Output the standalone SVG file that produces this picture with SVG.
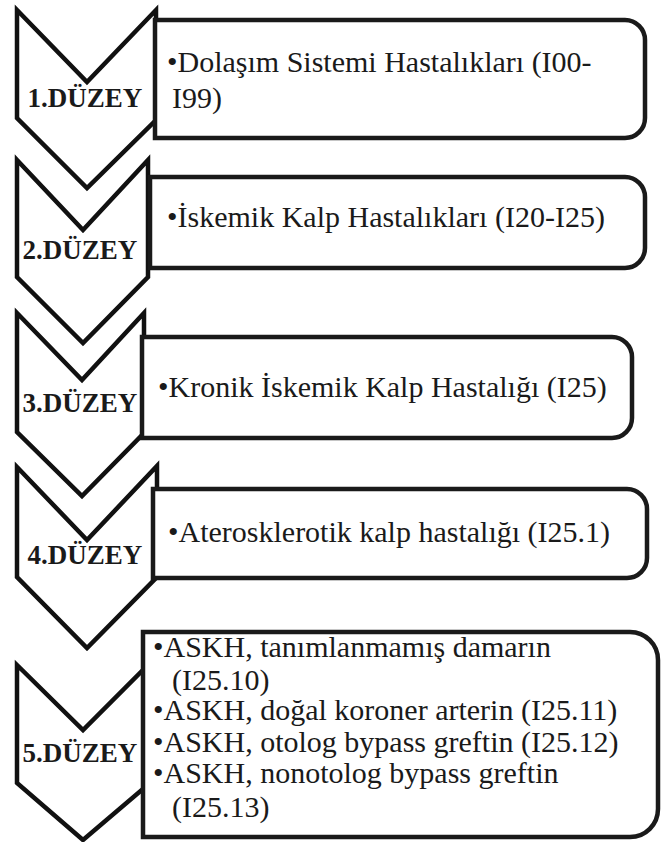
<svg xmlns="http://www.w3.org/2000/svg" width="662" height="842" viewBox="0 0 662 842">
<style>
.chev{fill:#fff;stroke:#111;stroke-width:4.5;stroke-linejoin:miter}
.box{fill:#fff;stroke:#1a1a1a;stroke-width:4.5}
.lbl{font-family:"Liberation Serif","Times New Roman",serif;font-weight:bold;font-size:27px;fill:#1a1a1a;text-anchor:middle}
.txt{font-family:"Liberation Serif","Times New Roman",serif;font-size:30px;fill:#1a1a1a}
</style>
<rect width="662" height="842" fill="#fff"/>
<g id="connectors"></g>
<g id="level1">
<path class="chev" d="M17,10 L87,82 L156,10 L156,120 L87,188 L17,118 Z"/>
<path class="box" d="M155,20 H625 A20,20 0 0 1 645,40 V118 A20,20 0 0 1 625,138 H155 Z"/>
<text class="lbl" x="85" y="107">1.DÜZEY</text>
<text class="txt" x="167" y="72">•Dolaşım Sistemi Hastalıkları (I00-</text>
<text class="txt" x="172" y="108">I99)</text>
</g>
<g id="level2">
<path class="chev" d="M17,160 L83,230 L148,160 L148,277 L83,343 L17,277 Z"/>
<path class="box" d="M150,177 H625 A20,20 0 0 1 645,197 V248 A20,20 0 0 1 625,268 H150 Z"/>
<text class="lbl" x="80" y="259">2.DÜZEY</text>
<text class="txt" x="167" y="227">•İskemik Kalp Hastalıkları (I20-I25)</text>
</g>
<g id="level3">
<path class="chev" d="M17,313 L82,380 L144,313 L144,433 L82,496 L17,432 Z"/>
<path class="box" d="M142,337 H612 A20,20 0 0 1 632,357 V418 A20,20 0 0 1 612,438 H142 Z"/>
<text class="lbl" x="80" y="412">3.DÜZEY</text>
<text class="txt" x="158" y="397">•Kronik İskemik Kalp Hastalığı (I25)</text>
</g>
<g id="level4">
<path class="chev" d="M17,467 L87,540 L157,466 L157,577 L87,648 L17,577 Z"/>
<path class="box" d="M153,489 H627 A20,20 0 0 1 647,509 V558 A20,20 0 0 1 627,578 H153 Z"/>
<text class="lbl" x="85" y="564">4.DÜZEY</text>
<text class="txt" x="168" y="542">•Aterosklerotik kalp hastalığı (I25.1)</text>
</g>
<g id="level5">
<path class="chev" d="M17,665 L83,730 L150,663 L150,783 L83,840 L17,783 Z"/>
<path class="box" d="M143,632 H630 A28,28 0 0 1 658,660 V809 A28,28 0 0 1 630,837 H143 Z"/>
<text class="lbl" x="80" y="762">5.DÜZEY</text>
<text class="txt" x="153" y="657">•ASKH, tanımlanmamış damarın</text>
<text class="txt" x="172" y="690">(I25.10)</text>
<text class="txt" x="153" y="720">•ASKH, doğal koroner arterin (I25.11)</text>
<text class="txt" x="153" y="752">•ASKH, otolog bypass greftin (I25.12)</text>
<text class="txt" x="153" y="783">•ASKH, nonotolog bypass greftin</text>
<text class="txt" x="172" y="817">(I25.13)</text>
</g>
</svg>
